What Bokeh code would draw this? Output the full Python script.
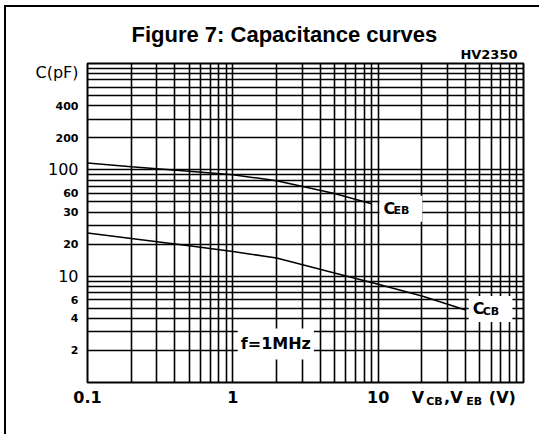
from bokeh.plotting import figure
from bokeh.models import Range1d, FixedTicker, Label, ColumnDataSource, LogAxis, Title
from bokeh.embed import file_html
from bokeh.resources import INLINE

# ---- data ----
v_eb = [0.1, 0.2, 0.5, 1, 2, 5, 9]
c_eb = [116, 107, 97, 90, 79, 60, 48]
v_cb = [0.1, 0.2, 0.5, 1, 2, 5, 10, 20, 40]
c_cb = [25.5, 22.6, 19.3, 17.1, 14.8, 10.7, 8.4, 6.5, 4.8]

x_tick_values = [0.1, 1, 10]
x_tick_labels = ["0.1", "1", "10"]
y_tick_values = [400, 200, 60, 40, 20, 6, 4, 2]
y_tick_labels = ["400", "200", "60", "30", "20", "6", "4", "2"]
y_big_values = [820, 100, 10]
y_big_labels = ["C(pF)", "100", "10"]

# x axis title pieces "V_CB,V_EB(V)" (big letters / small subscript letters)
x_unit_big = ["V", ",V", "(V)"]
x_unit_big_pos = [18.8, 32.9, 71.5]
x_unit_sub = ["CB", "EB"]
x_unit_sub_pos = [24.4, 45.8]

x_decades = [0.1, 1, 10]
y_decades = [1, 10, 100]
mantissas = [1, 2, 3, 4, 5, 6, 7, 8, 9]

FONT = "DejaVu Sans"

p = figure(width=535, height=429, title=None,
           x_axis_type="log", y_axis_type="log",
           x_range=Range1d(0.1, 100), y_range=Range1d(1, 1000),
           output_backend="svg", toolbar_location=None,
           min_border_left=81, min_border_right=18,
           min_border_top=56, min_border_bottom=54)
p.margin = (5, 0, 0, 4)
p.styles = {"border-left": "2px solid black", "border-top": "2px solid black"}
p.background_fill_color = "white"
p.border_fill_color = "white"
p.outline_line_color = "black"
p.outline_line_width = 2

x_grid = [m * d for d in x_decades for m in mantissas] + [100]
y_grid = [m * d for d in y_decades for m in mantissas] + [1000]
p.xgrid.ticker = FixedTicker(ticks=x_grid)
p.ygrid.ticker = FixedTicker(ticks=y_grid)
for g in (p.xgrid, p.ygrid):
    g.grid_line_color = "black"
    g.grid_line_width = 1.6
    g.grid_line_alpha = 1.0


def style_axis(ax, size, bold, standoff):
    ax.axis_line_color = None
    ax.major_tick_line_color = None
    ax.minor_tick_line_color = None
    ax.major_tick_out = 0
    ax.minor_tick_out = 0
    ax.major_tick_in = 0
    ax.minor_tick_in = 0
    ax.major_label_text_font = FONT
    ax.major_label_text_font_style = "bold" if bold else "normal"
    ax.major_label_text_font_size = size
    ax.major_label_text_color = "black"
    ax.major_label_standoff = standoff


# primary x axis: tick labels + big letters of the axis title
xa = p.xaxis[0]
xa.ticker = FixedTicker(ticks=x_tick_values + x_unit_big_pos)
xa.major_label_overrides = dict(zip(x_tick_values + x_unit_big_pos,
                                    x_tick_labels + x_unit_big))
style_axis(xa, "16px", True, 5)

# secondary x axis: subscript letters, overlaid on the first one
xs = LogAxis(ticker=FixedTicker(ticks=x_unit_sub_pos),
             major_label_overrides=dict(zip(x_unit_sub_pos, x_unit_sub)))
style_axis(xs, "11px", True, -15)
p.add_layout(xs, "below")

# primary y axis: small labels
ya = p.yaxis[0]
ya.ticker = FixedTicker(ticks=y_tick_values)
ya.major_label_overrides = dict(zip(y_tick_values, y_tick_labels))
style_axis(ya, "11px", True, 9)

# secondary y axis: big labels, overlaid on the first one
yb = LogAxis(ticker=FixedTicker(ticks=y_big_values),
             major_label_overrides=dict(zip(y_big_values, y_big_labels)))
style_axis(yb, "16px", False, -26)
p.add_layout(yb, "left")

# titles
p.add_layout(Title(text="HV2350", align="right", offset=6, standoff=4,
                   text_font=FONT, text_font_size="13px", text_font_style="bold",
                   text_color="black"), "above")
p.add_layout(Title(text="Figure 7: Capacitance curves", align="left", offset=44,
                   standoff=-8, text_font="Liberation Sans", text_font_size="22px",
                   text_font_style="bold", text_color="black"), "above")

# curves
src_eb = ColumnDataSource(dict(x=v_eb, y=c_eb))
src_cb = ColumnDataSource(dict(x=v_cb, y=c_cb))
p.line("x", "y", source=src_eb, line_color="black", line_width=1.5)
p.line("x", "y", source=src_cb, line_color="black", line_width=1.5)


def lab(text, x, y, dx, dy, size, align="left", baseline="middle",
        bg=None, pad=0):
    l = Label(x=x, y=y, x_offset=dx, y_offset=dy, text=text, text_align=align,
              text_baseline=baseline, text_font=FONT, text_font_size=size,
              text_font_style="bold", text_color="black")
    if bg:
        l.background_fill_color = bg
        l.padding = pad
    p.add_layout(l)


# curve labels
lab("C", v_eb[-1], c_eb[-1], 8, -5, "16px", bg="white", pad=(4, 27, 3, 4))
lab("EB", v_eb[-1], c_eb[-1], 22, -7, "11px")
lab("C", v_cb[-1], c_cb[-1], 3, 1, "16px", bg="white", pad=(4, 28, 3, 4))
lab("CB", v_cb[-1], c_cb[-1], 17, -1, "11px")

# frequency note
lab("f=1MHz", 1, 2, 43, 6.5, "16px", align="center",
    bg="white", pad=(3, 6))

open("out.html", "w").write(file_html(p, INLINE))
